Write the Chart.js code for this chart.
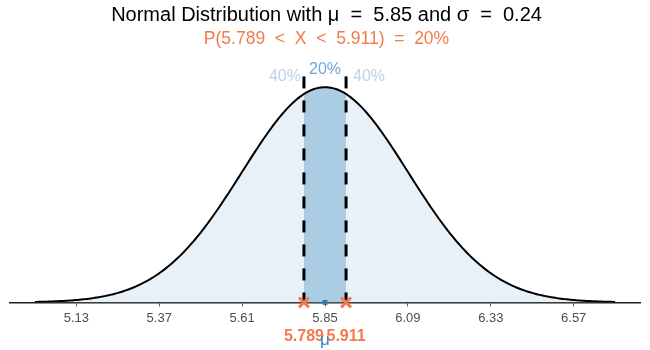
<!DOCTYPE html>
<html>
<head>
<meta charset="utf-8">
<script src="https://cdn.jsdelivr.net/npm/chart.js@4.4.1/dist/chart.umd.min.js"></script>
<style>
    html, body { margin: 0; padding: 0; background: #fff; }
    #wrap { width: 650px; height: 350px; }
</style>
</head>
<body>
<div id="wrap"><canvas id="normal-chart"></canvas></div>
<script>
const mu = 5.85;
const sigma = 0.24;
const bounds = [5.789, 5.911];
const tickValues = [5.13, 5.37, 5.61, 5.85, 6.09, 6.33, 6.57];
const areaLabels = ['40%', '20%', '40%'];
const boundLabels = ['5.789', '5.911'];
const probability = '20%';

const FONT = '"Liberation Sans", Arial, Helvetica, sans-serif';
const ORANGE = '#f37b4b';

function density(x) {
    const z = (x - mu) / sigma;
    return Math.exp(-0.5 * z * z) / (sigma * Math.sqrt(2 * Math.PI));
}

function curvePoints(from, to, n) {
    const pts = [];
    for (let i = 0; i <= n; i++) {
        const x = from + (to - from) * i / n;
        pts.push({ x: x, y: density(x) });
    }
    return pts;
}

const peak = density(mu);
const dashTop = peak * 1.05;
const curve = curvePoints(mu - 3.5 * sigma, mu + 3.5 * sigma, 300);
const band = curvePoints(bounds[0], bounds[1], 60);

// labels around the shaded band and under the axis
const bandLabels = {
    id: 'bandLabels',
    afterDraw(chart) {
        const { ctx, chartArea, scales: { x, y } } = chart;
        const lx = x.getPixelForValue(bounds[0]);
        const rx = x.getPixelForValue(bounds[1]);
        const mx = x.getPixelForValue(mu);
        const ty = y.getPixelForValue(dashTop);

        ctx.save();
        ctx.textBaseline = 'alphabetic';
        ctx.font = '16px ' + FONT;
        ctx.fillStyle = '#bad4ea';
        ctx.textAlign = 'right';
        ctx.fillText(areaLabels[0], lx - 3, ty + 5);
        ctx.textAlign = 'left';
        ctx.fillText(areaLabels[2], rx + 7, ty + 5);
        ctx.fillStyle = '#6fa7d6';
        ctx.textAlign = 'center';
        ctx.fillText(areaLabels[1], mx, ty - 2);

        ctx.font = 'bold 16px ' + FONT;
        ctx.fillStyle = ORANGE;
        ctx.fillText(boundLabels[0], lx, chartArea.bottom + 39);
        ctx.fillText(boundLabels[1], rx, chartArea.bottom + 39);

        ctx.font = '17px ' + FONT;
        ctx.fillStyle = '#3a87c8';
        ctx.fillText('μ', mx, chartArea.bottom + 43);
        ctx.restore();
    }
};

const ctx = document.getElementById('normal-chart');

new Chart(ctx, {
    type: 'line',
    data: {
        datasets: [
            {
                // whole area under the curve
                data: curve,
                fill: 'origin',
                backgroundColor: '#e9f1f8',
                borderWidth: 0,
                pointRadius: 0,
                order: 5
            },
            {
                data: band,
                fill: 'origin',
                backgroundColor: '#abcde3',
                borderWidth: 0,
                pointRadius: 0,
                order: 4
            },
            {
                data: curve,
                fill: false,
                borderColor: '#000',
                borderWidth: 2,
                pointRadius: 0,
                order: 3
            },
            {
                data: [{ x: bounds[0], y: dashTop }, { x: bounds[0], y: 0 }],
                borderColor: '#000',
                borderWidth: 3,
                borderDash: [12, 12],
                pointRadius: 0,
                order: 2
            },
            {
                data: [{ x: bounds[1], y: dashTop }, { x: bounds[1], y: 0 }],
                borderColor: '#000',
                borderWidth: 3,
                borderDash: [12, 12],
                pointRadius: 0,
                order: 2
            },
            {
                data: bounds.map(b => ({ x: b, y: 0 })),
                showLine: false,
                pointStyle: 'crossRot',
                pointRadius: 7,
                borderWidth: 3,
                borderColor: ORANGE,
                clip: false,
                order: 1
            },
            {
                data: [{ x: mu, y: 0 }],
                showLine: false,
                pointStyle: 'rect',
                pointRadius: 3.5,
                backgroundColor: '#2a7bbd',
                borderColor: '#2a7bbd',
                borderWidth: 0,
                clip: false,
                order: 0
            }
        ]
    },
    options: {
        responsive: true,
        maintainAspectRatio: false,
        animation: false,
        layout: {
            padding: { left: 6, right: 3, top: 0, bottom: 20 }
        },
        plugins: {
            legend: { display: false },
            tooltip: { enabled: false },
            title: {
                display: true,
                text: 'Normal Distribution with μ  =  ' + mu + ' and σ  =  ' + sigma,
                color: '#000',
                font: { family: FONT, size: 20, weight: 'normal' },
                padding: { top: 3, bottom: 2 }
            },
            subtitle: {
                display: true,
                text: 'P(' + bounds[0] + '  <  X  <  ' + bounds[1] + ')  =  ' + probability,
                color: ORANGE,
                font: { family: FONT, size: 17.5 },
                padding: { top: 0, bottom: 9 }
            }
        },
        scales: {
            x: {
                type: 'linear',
                min: mu - 3.8 * sigma,
                max: mu + 3.8 * sigma,
                afterBuildTicks: (axis) => {
                    axis.ticks = tickValues.map(v => ({ value: v }));
                },
                ticks: {
                    color: '#4d4d4d',
                    font: { family: FONT, size: 13 },
                    padding: 4,
                    autoSkip: false,
                    maxRotation: 0,
                    callback: (v) => v.toFixed(2)
                },
                grid: {
                    drawOnChartArea: false,
                    drawTicks: true,
                    tickLength: 4,
                    color: '#555'
                },
                border: { display: true, color: '#222', width: 1.5 }
            },
            y: {
                display: false,
                min: 0,
                max: peak * 1.131
            }
        }
    },
    plugins: [bandLabels]
});
</script>
</body>
</html>
